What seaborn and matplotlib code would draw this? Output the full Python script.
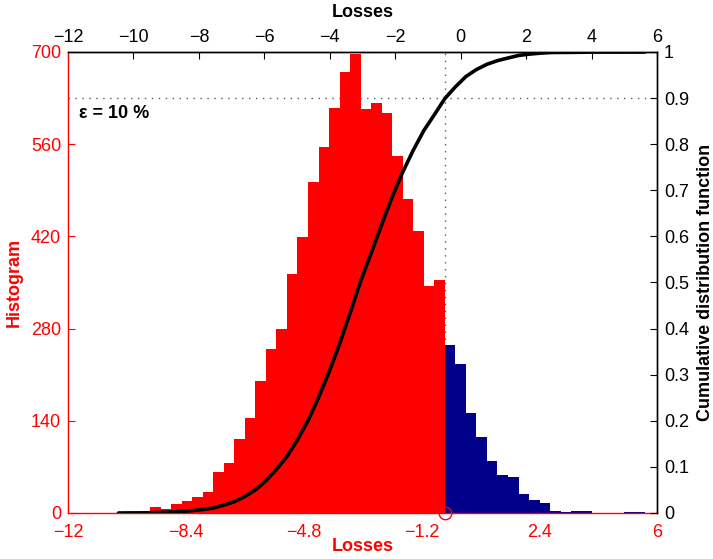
import numpy as np
import pandas as pd
import matplotlib
matplotlib.use("Agg")
import matplotlib.pyplot as plt
import seaborn as sns

# ---- data ----
bin_start = -10.457          # left edge of first histogram bin
bin_width = 0.3217           # histogram bin width
counts = [2, 1, 2, 9, 6, 14, 18, 24, 32, 62,
          76, 113, 144, 200, 249, 279, 363, 419, 503, 556,
          615, 670, 697, 613, 622, 607, 542, 477, 428, 345,
          354,
          255, 226, 152, 115, 79, 58, 55, 29, 20, 15,
          3, 1, 3, 3, 0, 0, 0, 1, 1]
n_loss_bins = 31             # bins left of the VaR threshold (red)
epsilon = 0.10
bottom_ticks = [-12, -8.4, -4.8, -1.2, 2.4, 6]
top_ticks = [-12, -10, -8, -6, -4, -2, 0, 2, 4, 6]
hist_ticks = [0, 140, 280, 420, 560, 700]
cdf_ticks = [0, 0.1, 0.2, 0.3, 0.4, 0.5, 0.6, 0.7, 0.8, 0.9, 1]

n_bins = len(counts)
edges = bin_start + bin_width * np.arange(n_bins + 1)
centers = edges[:-1] + bin_width / 2
counts = np.array(counts, dtype=float)
cdf = np.concatenate([[0], np.cumsum(counts)]) / counts.sum()
var_x = edges[n_loss_bins]

df = pd.DataFrame({"loss": centers, "count": counts})
df_red = df.iloc[:n_loss_bins]
df_blue = df.iloc[n_loss_bins:]

sns.set_style("ticks")
plt.rcParams["font.family"] = ["Liberation Sans", "DejaVu Sans"]
plt.rcParams["text.color"] = "black"
plt.rcParams["axes.labelcolor"] = "black"
plt.rcParams["xtick.color"] = "black"
plt.rcParams["ytick.color"] = "black"

fig = plt.figure(figsize=(7.13, 5.59), dpi=100)
ax = fig.add_axes([0.0954, 0.0823, 0.8261, 0.8247])
ax2 = ax.twinx()

RED = "#ff0000"
BLUE = "#00008b"

sns.histplot(data=df_red, x="loss", weights="count", bins=n_loss_bins,
             binrange=(edges[0], edges[n_loss_bins]),
             color=RED, alpha=1, linewidth=0, ax=ax, zorder=2)
sns.histplot(data=df_blue, x="loss", weights="count", bins=n_bins - n_loss_bins,
             binrange=(edges[n_loss_bins], edges[-1]),
             color=BLUE, alpha=1, linewidth=0, ax=ax, zorder=2)

ax.set_xlim(-12, 6)
ax.set_ylim(0, 700)
ax2.set_ylim(0, 1)

# dotted guide lines (behind bars), in CDF coordinates
ax.plot([-12, 6], [1 - epsilon, 1 - epsilon], transform=ax2.transData,
        ls=(0, (1, 4)), color="0.35", lw=1, zorder=1)
ax.plot([var_x, var_x], [0, 1], transform=ax2.transData,
        ls=(0, (1, 4)), color="0.35", lw=1, zorder=1)

sns.lineplot(x=edges, y=cdf, ax=ax2, color="black", lw=2.6)
ax2.plot([var_x], [0], marker="o", ms=9, mfc="none", mec=RED, mew=1,
         clip_on=False, zorder=5)

ax2.text(-11.65, 0.885, "ε = 10 %", fontsize=13, fontweight="bold",
         color="black", ha="left", va="top")

# axes styling
ax.set_xticks(bottom_ticks)
ax.set_xticklabels([f"{t:g}".replace("-", "\u2212") for t in bottom_ticks])
ax.set_yticks(hist_ticks)
ax.tick_params(axis="both", direction="in", length=5, colors=RED,
               labelsize=13, labelcolor=RED)
ax.tick_params(axis="x", pad=8)
ax.tick_params(axis="y", pad=5)
ax.set_xlabel("Losses", color=RED, fontsize=13, fontweight="bold", labelpad=-2)
ax.set_ylabel("Histogram", color=RED, fontsize=13, fontweight="bold", labelpad=6)

ax2.set_yticks(cdf_ticks)
ax2.set_yticklabels([f"{t:g}" for t in cdf_ticks])
ax2.tick_params(axis="y", direction="in", length=5, colors="black",
                labelcolor="black", labelsize=13, pad=5)
ax2.set_ylabel("Cumulative distribution function", fontsize=13,
               fontweight="bold", color="black", labelpad=6)

top = ax.secondary_xaxis("top")
top.set_xticks(top_ticks)
top.tick_params(direction="in", length=5, colors="black", labelcolor="black",
                labelsize=13, pad=4)
top.set_xlabel("Losses", fontsize=13, fontweight="bold", color="black",
               labelpad=9)

for side in ["left", "bottom"]:
    ax.spines[side].set_color(RED)
for side in ["right", "top"]:
    ax2.spines[side].set_color("black")
ax2.spines["left"].set_visible(False)
ax2.spines["bottom"].set_visible(False)
top.spines["top"].set_color("black")
for a in (ax, ax2):
    for s in a.spines.values():
        s.set_linewidth(1.0)

fig.savefig("out.png", dpi=100)
